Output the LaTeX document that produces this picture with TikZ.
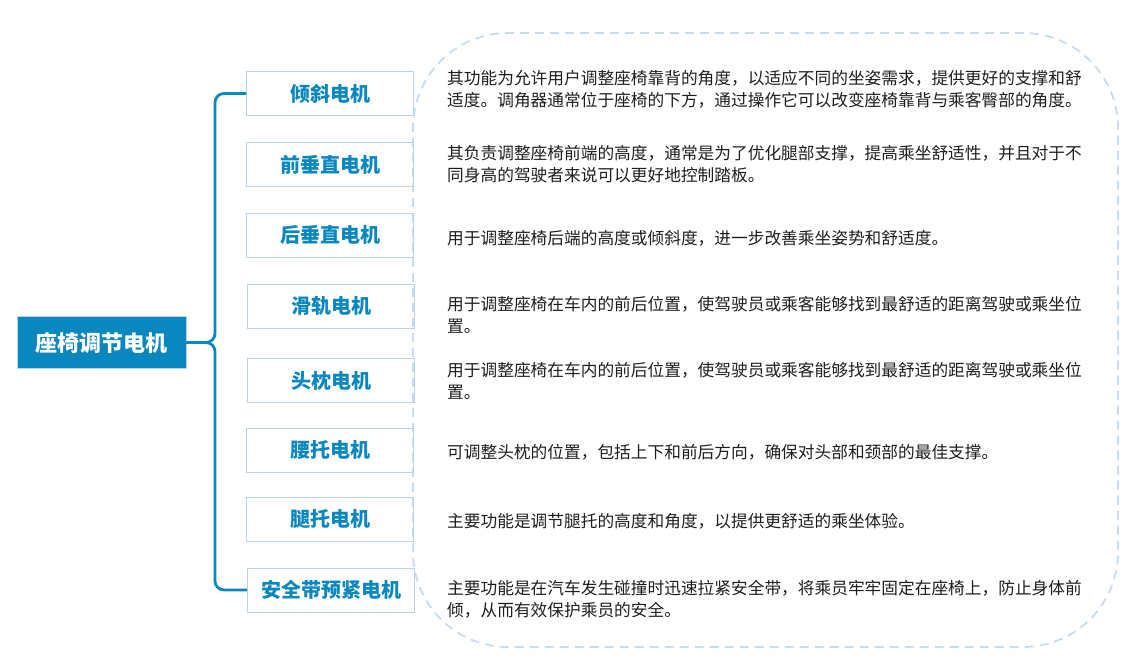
\documentclass[tikz,border=0pt]{standalone}
\usepackage{fontspec}
\setmainfont{Noto Sans CJK SC}
\usepackage{xcolor}
\usepackage{tikz}
\usetikzlibrary{positioning}
\definecolor{seatblue}{HTML}{0B87BF}
\definecolor{boxline}{HTML}{B9D3EC}
\definecolor{dashline}{HTML}{C6DCF2}
\definecolor{bodytext}{HTML}{1E1E1E}

\begin{document}
\begin{tikzpicture}[x=1pt,y=1pt]
				% Define styles for the different elements of the diagram
				\tikzstyle{rootbox} = [rectangle, draw=boxline, fill=seatblue, text=white, minimum width=169pt, minimum height=52pt, font=\fontsize{22}{24}\selectfont\bfseries]
				\tikzstyle{motor} = [rectangle, draw=boxline, line width=0.8pt, text=seatblue, minimum width=167pt, minimum height=44pt, font=\fontsize{20}{22}\selectfont\bfseries]
				\tikzstyle{desc} = [anchor=west, align=left, inner sep=0pt, text=bodytext, font=\fontsize{16.7}{22}\selectfont]
				\tikzstyle{brace} = [draw=seatblue, line width=2.8pt, line join=round]
				
				\useasboundingbox (0,0) rectangle (1145,656);
				
				% Dashed frame
				\draw[dashline, line width=1.8pt, dash pattern=on 9pt off 6pt, rounded corners=95pt] (413,9) rectangle (1118,623);
				
				% Root
				\node[rootbox] (main) at (101.5,313.5) {座椅调节电机};
				
				% Motors
				\node[motor] (tilt) at (330,562.5) {倾斜电机};
				\node[motor] (frontv) at (330,491.5) {前垂直电机};
				\node[motor] (rearv) at (330,421) {后垂直电机};
				\node[motor] (slide) at (331,350) {滑轨电机};
				\node[motor] (head) at (331,275.5) {头枕电机};
				\node[motor] (lumbar) at (330,206) {腰托电机};
				\node[motor] (leg) at (330,137) {腿托电机};
				\node[motor] (belt) at (331,66) {安全带预紧电机};
				
				% Descriptions
				\node[desc] (tiltd) at (447,566.5) {其功能为允许用户调整座椅靠背的角度，以适应不同的坐姿需求，提供更好的支撑和舒\\适度。调角器通常位于座椅的下方，通过操作它可以改变座椅靠背与乘客臀部的角度。};
				\node[desc] (frontvd) at (447,491.5) {其负责调整座椅前端的高度，通常是为了优化腿部支撑，提高乘坐舒适性，并且对于不\\同身高的驾驶者来说可以更好地控制踏板。};
				\node[desc] (rearvd) at (447,418) {用于调整座椅后端的高度或倾斜度，进一步改善乘坐姿势和舒适度。};
				\node[desc] (slided) at (447,341) {用于调整座椅在车内的前后位置，使驾驶员或乘客能够找到最舒适的距离驾驶或乘坐位\\置。};
				\node[desc] (headd) at (447,275.5) {用于调整座椅在车内的前后位置，使驾驶员或乘客能够找到最舒适的距离驾驶或乘坐位\\置。};
				\node[desc] (lumbard) at (447,204) {可调整头枕的位置，包括上下和前后方向，确保对头部和颈部的最佳支撑。};
				\node[desc] (legd) at (447,135) {主要功能是调节腿托的高度和角度，以提供更舒适的乘坐体验。};
				\node[desc] (beltd) at (447,57) {主要功能是在汽车发生碰撞时迅速拉紧安全带，将乘员牢牢固定在座椅上，防止身体前\\倾，从而有效保护乘员的安全。};
				
				% Draw the brace
				\coordinate (spine) at (215,313.5);
				\draw[brace] (tilt.west) -- ([xshift=9pt]spine |- tilt.west) to[out=180,in=90] ([yshift=-9pt]spine |- tilt.west) -- ([yshift=9pt]spine) to[out=-90,in=0] ([xshift=-9pt]spine) -- (main.east);
				\draw[brace] ([xshift=-9pt]spine) to[out=0,in=90] ([yshift=-9pt]spine) -- ([yshift=9pt]spine |- belt.west) to[out=-90,in=180] ([xshift=9pt]spine |- belt.west) -- (belt.west);
			\end{tikzpicture}
\end{document}
